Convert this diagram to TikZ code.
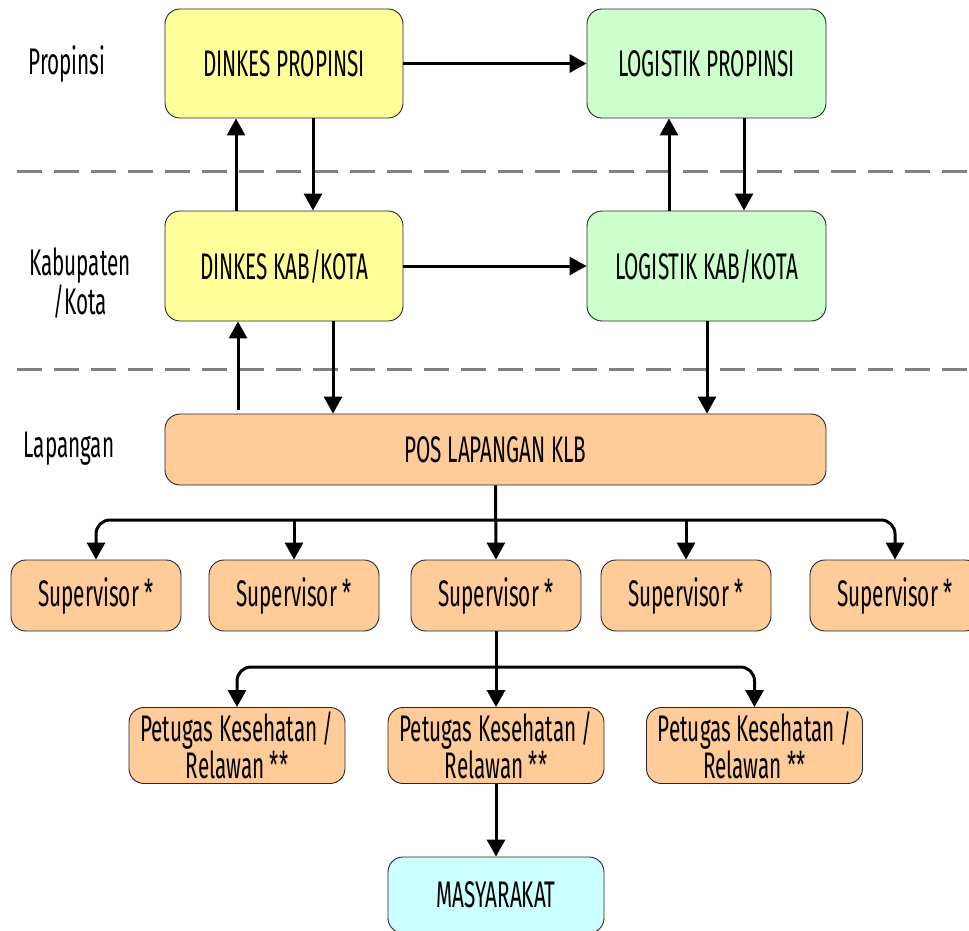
\documentclass[tikz,border=0pt]{standalone}
\usepackage{fontspec}
\setmainfont{Fira Sans}[FakeStretch=0.56]
\usetikzlibrary{arrows.meta}
\definecolor{cyel}{HTML}{FFFF99}
\definecolor{cgrn}{HTML}{CCFFCC}
\definecolor{corg}{HTML}{FFCC99}
\definecolor{ccyn}{HTML}{CCFFFF}
\tikzset{
  box/.style={draw=black!85, line width=0.9pt, rounded corners=15pt, align=center, inner sep=0pt,
    font=\fontsize{37}{37}\selectfont},
  lbl/.style={align=center, font=\fontsize{37}{33}\selectfont},
  arr/.style={line width=3pt, -{Triangle[length=17pt,width=18pt]}},
  sep/.style={draw=black!50, line width=3pt, dash pattern=on 25pt off 12pt}
}
\begin{document}
\begin{tikzpicture}[x=1pt,y=-1pt]
\useasboundingbox (0,0) rectangle (969,930);
\draw[sep] (17,171) -- (969,171);
\draw[sep] (17,369) -- (969,369);
% level labels
\node[lbl] (lp) at (67,64) {Propinsi};
\node[lbl] (lk) at (80,283) {Kabupaten\\/Kota};
\node[lbl] (ll) at (69,449) {Lapangan};
% main boxes
\node[box, fill=cyel, minimum width=238pt, minimum height=109pt] (dp) at (284,63.5) {DINKES PROPINSI};
\node[box, fill=cgrn, minimum width=239pt, minimum height=109pt] (gp) at (706.5,63.5) {LOGISTIK PROPINSI};
\node[box, fill=cyel, minimum width=238pt, minimum height=110pt] (dk) at (284,266) {DINKES KAB/KOTA};
\node[box, fill=cgrn, minimum width=239pt, minimum height=110pt] (gk) at (706.5,266) {LOGISTIK KAB/KOTA};
\node[box, fill=corg, minimum width=661pt, minimum height=71pt] (pos) at (495.5,449.5) {POS LAPANGAN KLB};
% supervisors
\node[box, fill=corg, minimum width=170pt, minimum height=71pt] (s1) at (96,595.5) {Supervisor *};
\node[box, fill=corg, minimum width=170pt, minimum height=71pt] (s2) at (294,595.5) {Supervisor *};
\node[box, fill=corg, minimum width=170pt, minimum height=71pt] (s3) at (496,595.5) {Supervisor *};
\node[box, fill=corg, minimum width=170pt, minimum height=71pt] (s4) at (686,595.5) {Supervisor *};
\node[box, fill=corg, minimum width=170pt, minimum height=71pt] (s5) at (895,595.5) {Supervisor *};
% petugas
\node[box, fill=corg, minimum width=216pt, minimum height=76pt] (p1) at (237,745.5) {Petugas Kesehatan /\\Relawan **};
\node[box, fill=corg, minimum width=216pt, minimum height=76pt] (p2) at (496,745.5) {Petugas Kesehatan /\\Relawan **};
\node[box, fill=corg, minimum width=216pt, minimum height=76pt] (p3) at (754.5,745.5) {Petugas Kesehatan /\\Relawan **};
\node[box, fill=ccyn, minimum width=216pt, minimum height=76pt] (m) at (496,895) {MASYARAKAT};
% coordinates
\coordinate (b1) at (496,520);
\coordinate (b2) at (496,667);
% connectors
\draw[arr] (dp.east) -- (gp.west);
\draw[arr] (dk.east) -- (gk.west);
\draw[arr] (dk.north -| 236,0) -- (dp.south -| 236,0);
\draw[arr] (dp.south -| 313,0) -- (dk.north -| 313,0);
\draw[arr] (gk.north -| 669,0) -- (gp.south -| 669,0);
\draw[arr] (gp.south -| 744,0) -- (gk.north -| 744,0);
\draw[arr] (238,410) -- (dk.south -| 238,0);
\draw[arr] (dk.south -| 333,0) -- (pos.north -| 333,0);
\draw[arr] (gk.south -| 707,0) -- (pos.north -| 707,0);
% branch to supervisors
\draw[arr] (pos.south) -- (s3.north);
\draw[arr, rounded corners=14pt] (b1) -| (s1.north);
\draw[arr, rounded corners=14pt] (b1) -| (s5.north);
\draw[arr] (s2.north |- b1) -- (s2.north);
\draw[arr] (s4.north |- b1) -- (s4.north);
% branch to petugas
\draw[arr] (s3.south) -- (p2.north);
\draw[arr, rounded corners=14pt] (b2) -| (p1.north);
\draw[arr, rounded corners=14pt] (b2) -| (p3.north);
\draw[arr] (p2.south) -- (m.north);
\end{tikzpicture}
\end{document}
